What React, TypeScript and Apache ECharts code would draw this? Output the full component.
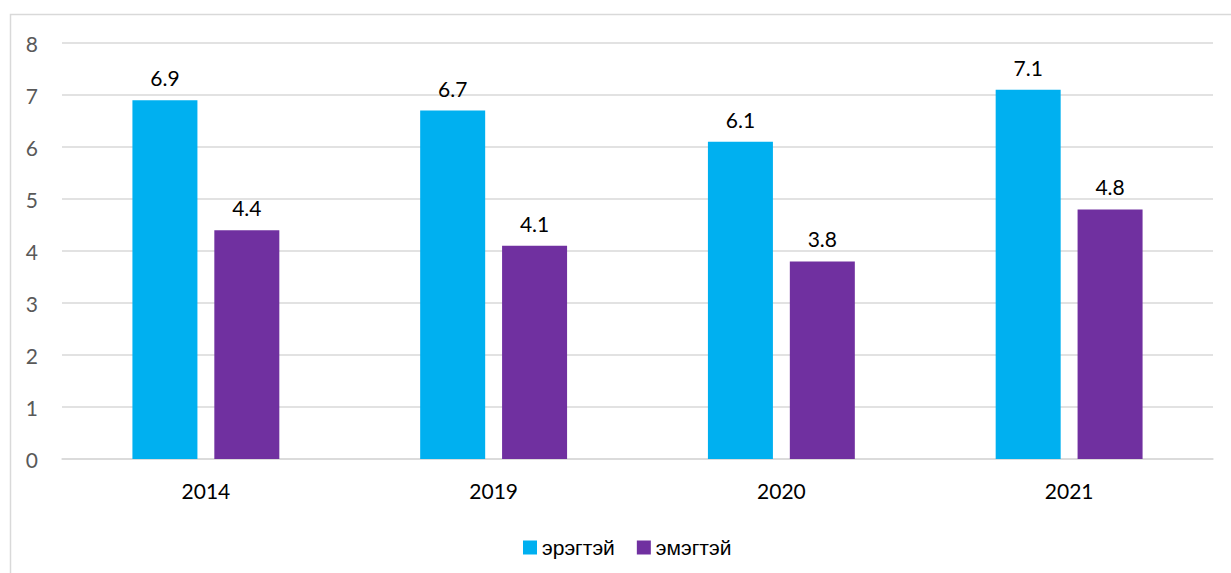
import React, { useEffect, useRef } from "react";
import * as echarts from "echarts";

const categories = ["2014", "2019", "2020", "2021"];
const male = [6.9, 6.7, 6.1, 7.1];
const female = [4.4, 4.1, 3.8, 4.8];
const seriesNames = ["эрэгтэй", "эмэгтэй"];

export default function App() {
  const ref = useRef<HTMLDivElement>(null);
  useEffect(() => {
    const chart = echarts.init(ref.current!, undefined, { renderer: "svg" });
    const labelStyle = {
      show: true,
      position: "top" as const,
      distance: 12,
      color: "#000",
      fontSize: 21,
      fontFamily: "Lato, 'Open Sans', sans-serif",
      formatter: (p: any) => Number(p.value).toFixed(1),
    };
    chart.setOption({
      animation: false,
      backgroundColor: "#fff",
      graphic: [
        {
          type: "rect",
          shape: { x: 10.5, y: 14.5, width: 1300, height: 700 },
          style: { fill: "none", stroke: "#d9d9d9", lineWidth: 1.5 },
          silent: true,
        },
      ],
      grid: { left: 62, right: 18, top: 43, bottom: 114, containLabel: false },
      legend: {
        top: 532,
        left: 518,
        itemWidth: 14,
        itemHeight: 14,
        itemGap: 22,
        icon: "rect",
        textStyle: { color: "#000", fontSize: 21, fontFamily: "'Liberation Sans', Arial, sans-serif", padding: [0, 0, 0, 0] },
        data: seriesNames,
      },
      xAxis: {
        type: "category",
        data: categories,
        axisLine: { show: true, lineStyle: { color: "#d9d9d9", width: 1.5 } },
        axisTick: { show: false },
        axisLabel: { color: "#000", fontSize: 21, margin: 21, fontFamily: "Lato, 'Open Sans', sans-serif" },
      },
      yAxis: {
        type: "value",
        min: 0,
        max: 8,
        interval: 1,
        axisLine: { show: false },
        axisTick: { show: false },
        splitLine: { lineStyle: { color: "#d9d9d9", width: 1.5 } },
        axisLabel: { color: "#595959", fontSize: 21, margin: 24, fontFamily: "Lato, 'Open Sans', sans-serif" },
      },
      series: [
        {
          name: seriesNames[0],
          type: "bar",
          data: male,
          barWidth: 65,
          barGap: "26%",
          itemStyle: { color: "#00B0F0" },
          label: labelStyle,
        },
        {
          name: seriesNames[1],
          type: "bar",
          data: female,
          barWidth: 65,
          itemStyle: { color: "#7030A0" },
          label: labelStyle,
        },
      ],
    });
    return () => chart.dispose();
  }, []);
  return (
    <div
      ref={ref}
      style={{ position: "fixed", left: 0, top: 0, width: 1231, height: 573 }}
    />
  );
}
